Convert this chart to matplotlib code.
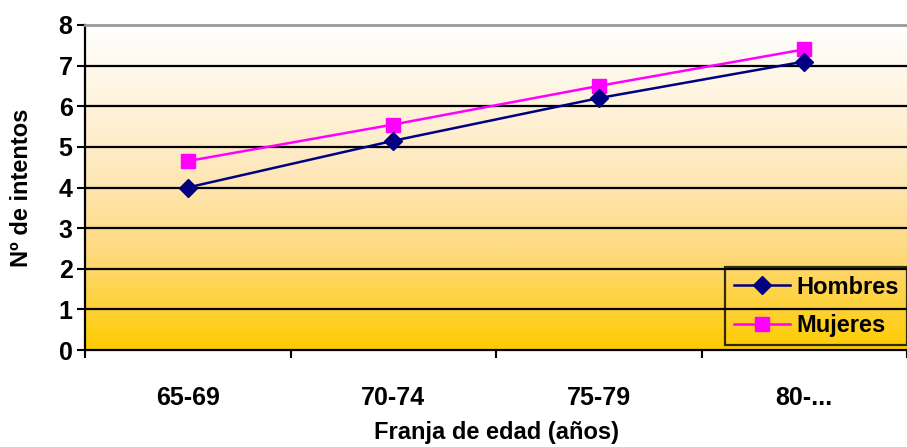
import numpy as np
import matplotlib.pyplot as plt
from matplotlib.colors import LinearSegmentedColormap

plt.rcParams['font.family'] = ['Liberation Sans', 'DejaVu Sans']
plt.rcParams['font.weight'] = 'bold'

franjas = ["65-69", "70-74", "75-79", "80-..."]
hombres = [4.0, 5.15, 6.2, 7.1]
mujeres = [4.65, 5.55, 6.5, 7.4]

fig = plt.figure(figsize=(9.07, 4.47), dpi=100)
ax = fig.add_axes([85 / 907, 97 / 447, 822 / 907, 325 / 447])

# vertical gradient fill: gold at the bottom fading to white on top
cmap = LinearSegmentedColormap.from_list(
    "oro", [(0, "#FFCC00"), (0.3, "#FED97F"), (0.6, "#FEEBC4"), (1, "#FFFFFF")])
grad = np.linspace(0, 1, 256).reshape(-1, 1)
ax.imshow(grad, cmap=cmap, origin="lower", aspect="auto",
          extent=[0, 4, 0, 8], zorder=0)

x = np.arange(len(franjas)) + 0.5
ax.plot(x, hombres, color="#000080", lw=1.8, marker="D", ms=9,
        label="Hombres", zorder=4)
ax.plot(x, mujeres, color="#FF00FF", lw=1.8, marker="s", ms=10,
        label="Mujeres", zorder=3)

ax.set_xlim(0, 4)
ax.set_ylim(0, 8)
ax.set_yticks(range(0, 9))
for y in range(1, 8):
    ax.axhline(y, color="black", lw=1.6, zorder=1)

ax.set_xticks(range(0, 5))
ax.set_xticklabels([])
ax.set_xticks(x, minor=True)
ax.set_xticklabels(franjas, minor=True, fontsize=18, fontweight="bold")
ax.tick_params(axis="x", which="minor", length=0, pad=26)
ax.tick_params(axis="x", which="major", length=6, width=1.5)
ax.tick_params(axis="y", length=6, width=1.5, labelsize=18, pad=3)

for side in ("left", "bottom"):
    ax.spines[side].set_linewidth(1.6)
ax.spines["top"].set_color("#999999")
ax.spines["top"].set_linewidth(2)
ax.spines["right"].set_visible(False)

ax.set_ylabel("Nº de intentos", fontsize=17, fontweight="bold", labelpad=18)
ax.set_xlabel("Franja de edad (años)", fontsize=17, fontweight="bold",
              labelpad=8)

leg = ax.legend(loc="lower right", bbox_to_anchor=(1.0, 0.015),
                fontsize=17, frameon=True, fancybox=False,
                edgecolor="black", facecolor="none", borderpad=0.35,
                handlelength=2.4, handletextpad=0.25, labelspacing=0.65,
                borderaxespad=0)
leg.get_frame().set_linewidth(1.6)

fig.savefig("out.png", dpi=100)
